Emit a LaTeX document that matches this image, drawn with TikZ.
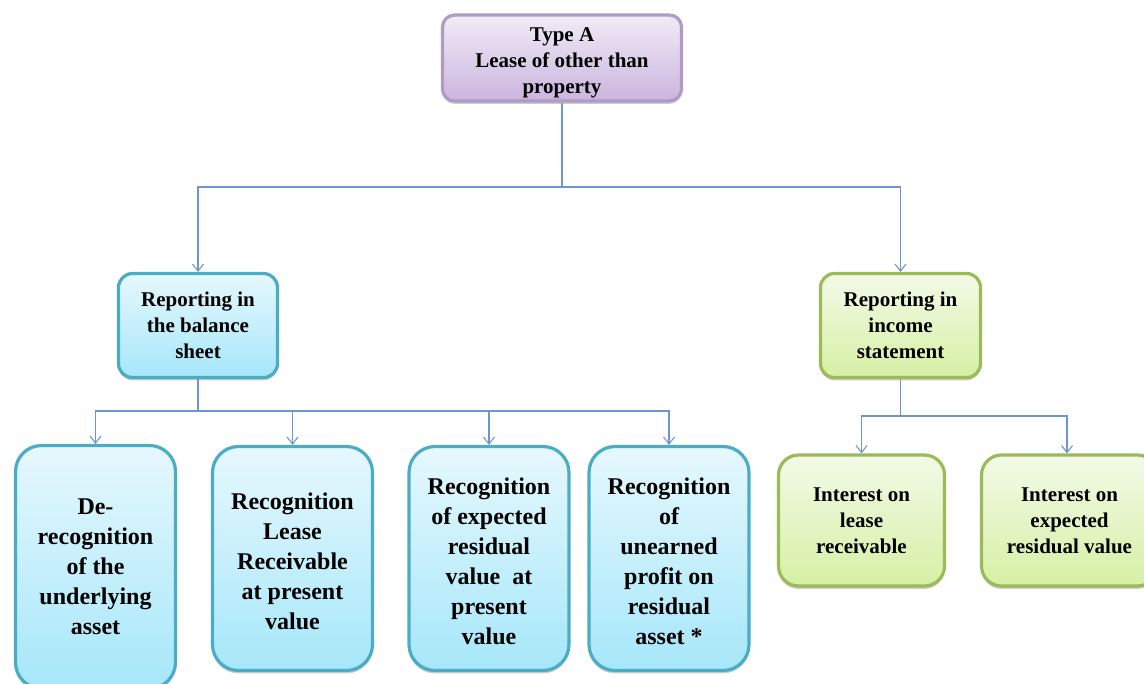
\documentclass[tikz,border=0pt]{standalone}
\usepackage{fontspec}
\setmainfont{Liberation Serif}
\usetikzlibrary{arrows.meta,shadows}
\def\PX{0.75pt}
\definecolor{purpleedge}{HTML}{AE9CC4}
\definecolor{purpletop}{HTML}{F1EBF6}
\definecolor{purplebot}{HTML}{CBB5DF}
\definecolor{blueedge}{HTML}{4BACC6}
\definecolor{bluetop}{HTML}{E6F8FD}
\definecolor{bluebot}{HTML}{A6E7FA}
\definecolor{greenedge}{HTML}{9BBB59}
\definecolor{greentop}{HTML}{F3FAE8}
\definecolor{greenbot}{HTML}{D6F0A4}
\definecolor{linkblue}{HTML}{6F95CF}
\tikzset{
  box/.style={draw, rounded corners=14*\PX, line width=3.2*\PX, align=center,
    font=\bfseries\fontsize{15.75}{19.5}\selectfont, inner sep=2pt,
    drop shadow={shadow xshift=0pt, shadow yshift=-2.2pt, opacity=0.28, fill=black!70}},
  topbox/.style={box, draw=purpleedge, top color=purpletop, bottom color=purplebot,
    rounded corners=12*\PX},
  midblue/.style={box, draw=blueedge, top color=bluetop, bottom color=bluebot},
  midgreen/.style={box, draw=greenedge, top color=greentop, bottom color=greenbot},
  tallblue/.style={box, draw=blueedge, top color=bluetop, bottom color=bluebot,
    rounded corners=26*\PX, font=\bfseries\fontsize{18}{22.5}\selectfont,
    minimum width=160*\PX},
  lowgreen/.style={box, draw=greenedge, top color=greentop, bottom color=greenbot,
    rounded corners=20*\PX, minimum width=166*\PX, minimum height=131*\PX},
  link/.style={draw=linkblue, line width=1.1*\PX},
  linkarrow/.style={link, -{Straight Barb[length=7*\PX, width=11*\PX, line width=1.1*\PX]}},
}
\begin{document}
\begin{tikzpicture}[x=0.75pt, y=-0.75pt]
\useasboundingbox (0,0) rectangle (1144,683);

% root
\node[topbox, minimum width=239*\PX, minimum height=85*\PX] (root) at (562,58)
  {\rule{0pt}{18pt}Type A\\Lease of other than\\property};

% second level
\node[midblue, minimum width=159*\PX, minimum height=104*\PX] (bal) at (198,325.5)
  {Reporting in\\the balance\\sheet};
\node[midgreen, minimum width=160*\PX, minimum height=104*\PX] (inc) at (900.5,325.5)
  {Reporting in\\income\\statement};

% balance sheet items
\node[tallblue, minimum height=243*\PX] (b1) at (95.5,567)
  {De-\\recognition\\of the\\underlying\\asset};
\node[tallblue, minimum height=224*\PX] (b2) at (292.5,558.5)
  {\rule{0pt}{17pt}Recognition\\Lease\\Receivable\\at present\\value};
\node[tallblue, minimum height=224*\PX] (b3) at (489,558.5)
  {\rule{0pt}{17pt}Recognition\\of expected\\residual\\value~ at\\present\\value};
\node[tallblue, minimum height=224*\PX] (b4) at (669,558.5)
  {\rule{0pt}{17pt}Recognition\\of\\unearned\\profit on\\residual\\asset *};

% income statement items
\node[lowgreen] (g1) at (861.5,520.5) {Interest on\\lease\\receivable};
\node[lowgreen, minimum width=176*\PX] (g2) at (1069.5,520.5)
  {Interest on\\expected\\residual value};

% junction points of the connectors
\coordinate (j0) at (562,187);
\coordinate (j1) at (198,411);
\coordinate (j2) at (900.5,416);

% connectors
\draw[link] (root.south) -- (j0);
\draw[linkarrow] (j0) -| (bal.north);
\draw[linkarrow] (j0) -| (inc.north);

\draw[link] (bal.south) -- (j1);
\draw[linkarrow] (j1) -| (b1.north);
\draw[linkarrow] (j1) -| (b2.north);
\draw[linkarrow] (j1) -| (b3.north);
\draw[linkarrow] (j1) -| (b4.north);

\draw[link] (inc.south) -- (j2);
\draw[linkarrow] (j2) -| (g1.north);
\draw[linkarrow] (j2) -| ([xshift=-2.5*\PX]g2.north);
\end{tikzpicture}
\end{document}
